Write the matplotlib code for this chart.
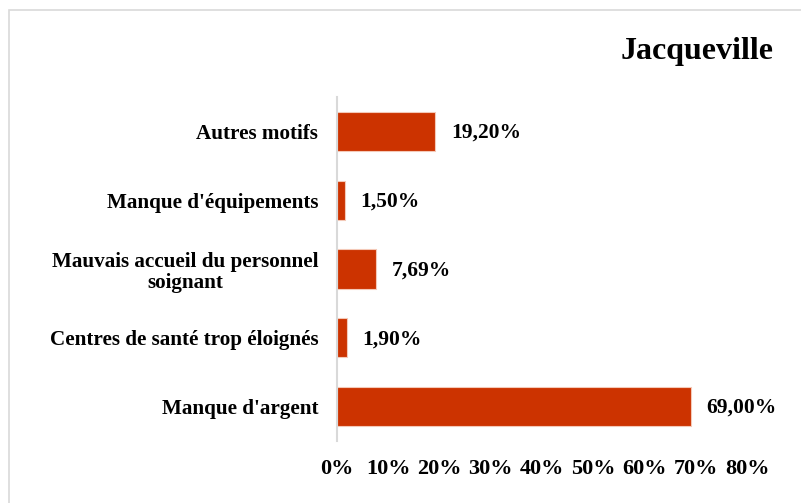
import matplotlib
matplotlib.use("Agg")
import matplotlib.pyplot as plt
from matplotlib.patches import Rectangle

categories = ["Manque d'argent", "Centres de santé trop éloignés",
              "Mauvais accueil du personnel\nsoignant", "Manque d'équipements", "Autres motifs"]
values = [69.00, 1.90, 7.69, 1.50, 19.20]
value_labels = ["69,00%", "1,90%", "7,69%", "1,50%", "19,20%"]
ticks = [0, 10, 20, 30, 40, 50, 60, 70, 80]
tick_labels = ["0%", "10%", "20%", "30%", "40%", "50%", "60%", "70%", "80%"]
title = "Jacqueville"

plt.rcParams['font.family'] = ['Liberation Serif', 'DejaVu Serif']

fig = plt.figure(figsize=(8.01, 5.03), dpi=100)
fig.patches.append(Rectangle((8.5/801, -0.1), 1.2, 1 - 10.5/503 + 0.1, transform=fig.transFigure,
                             fill=False, edgecolor='#d9d9d9', linewidth=1.2))
ax = fig.add_axes([337/801, 1 - 441/503, 410/801, 344/503])

pos = list(range(len(categories)))
ax.barh(pos, values, height=0.57, color='#CC3300', edgecolor='#f4c9b8', linewidth=0.8)
for p, v, lab in zip(pos, values, value_labels):
    ax.text(v + 3.0, p - 0.02, lab, va='center', ha='left', fontsize=15.5, fontweight='bold')

ax.set_xlim(0, 80)
ax.set_ylim(-0.5, 4.5)
ax.set_yticks(pos)
ax.set_yticklabels(categories, fontsize=15.2, fontweight='bold', multialignment='center',
                   linespacing=1.1)
ax.set_xticks(ticks)
ax.set_xticklabels(tick_labels, fontsize=16, fontweight='bold')
ax.tick_params(axis='both', length=0)
ax.tick_params(axis='y', pad=13.5)
ax.tick_params(axis='x', pad=13)
for s in ['top', 'right', 'bottom']:
    ax.spines[s].set_visible(False)
ax.spines['left'].set_color('#d9d9d9')
ax.spines['left'].set_linewidth(1.5)

fig.text(697/801, 1 - 52/503, title, ha='center', va='center', fontsize=23, fontweight='bold')

fig.savefig("out.png", dpi=100)
